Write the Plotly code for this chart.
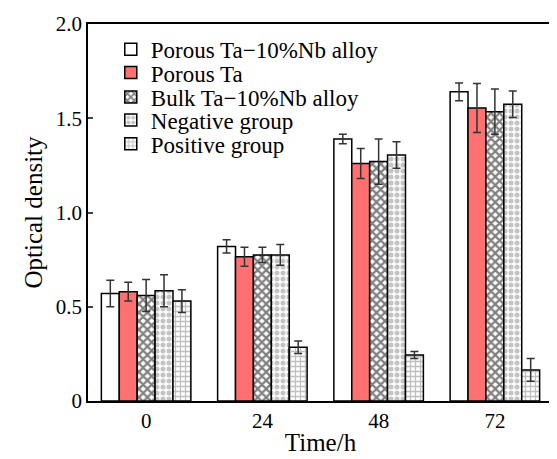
import plotly.graph_objects as go

categories = ["0", "24", "48", "72"]
series_names = ["Porous Ta−10%Nb alloy", "Porous Ta", "Bulk Ta−10%Nb alloy", "Negative group", "Positive group"]

porous_alloy = [0.57, 0.82, 1.39, 1.64]
porous_alloy_err = [0.07, 0.035, 0.025, 0.047]
porous_ta = [0.58, 0.765, 1.26, 1.555]
porous_ta_err = [0.05, 0.05, 0.08, 0.13]
bulk_alloy = [0.56, 0.775, 1.27, 1.535]
bulk_alloy_err = [0.085, 0.04, 0.12, 0.12]
negative = [0.585, 0.775, 1.305, 1.574]
negative_err = [0.085, 0.055, 0.07, 0.07]
positive = [0.53, 0.285, 0.244, 0.165]
positive_err = [0.06, 0.033, 0.018, 0.06]

values = [porous_alloy, porous_ta, bulk_alloy, negative, positive]
errors = [porous_alloy_err, porous_ta_err, bulk_alloy_err, negative_err, positive_err]

styles = [
    dict(color="white", pattern=dict(shape="")),
    dict(color="#FF7070", pattern=dict(shape="")),
    dict(color="white", pattern=dict(shape="x", fgcolor="black", size=6, solidity=0.6)),
    dict(color="white", pattern=dict(shape=".", fgcolor="#8a8a8a", size=6, solidity=0.55)),
    dict(color="white", pattern=dict(shape="+", fgcolor="#808080", size=5, solidity=0.45)),
]

legend_ids = ["legend", "legend2", "legend3", "legend4", "legend5"]
legend_rows_y = [0.933, 0.871, 0.806, 0.745, 0.682]

font_family = "Liberation Serif"

fig = go.Figure()
for name, vals, errs, st, lid in zip(series_names, values, errors, styles, legend_ids):
    fig.add_trace(go.Bar(
        x=categories, y=vals, name=name, legend=lid,
        marker=dict(color=st["color"], pattern=st["pattern"],
                    line=dict(color="black", width=1.5)),
        error_y=dict(type="data", array=errs, visible=True,
                     color="#333333", thickness=1.5, width=4),
    ))

legend_layout = {}
for lid, ly in zip(legend_ids, legend_rows_y):
    legend_layout[lid] = dict(x=0.049, y=ly, xanchor="left", yanchor="middle",
                              bgcolor="rgba(0,0,0,0)",
                              font=dict(family=font_family, size=23, color="black"))

# page body has an 8px margin, so the figure is 8px smaller and shifted
fig.update_layout(
    width=549, height=451,
    margin=dict(l=80, r=2, t=16, b=58),
    barmode="group", bargap=0.23, bargroupgap=0,
    paper_bgcolor="white", plot_bgcolor="white",
    font=dict(family=font_family, size=21, color="black"),
    xaxis=dict(title=dict(text="Time/h", standoff=2), showline=True, linecolor="black",
               linewidth=1.5, mirror=True, ticks="", type="category",
               range=[-0.5, 3.5]),
    yaxis=dict(title=dict(text="Optical density", standoff=6), range=[0, 2.0],
               tickvals=[0, 0.5, 1.0, 1.5, 2.0], ticktext=["0", "0.5", "1.0", "1.5", "2.0"],
               showline=True, linecolor="black", linewidth=1.5, mirror=True,
               ticks="inside", ticklen=5, tickwidth=1.5, showgrid=False, zeroline=False),
    showlegend=True,
    **legend_layout,
)

fig.write_html("out.html")
